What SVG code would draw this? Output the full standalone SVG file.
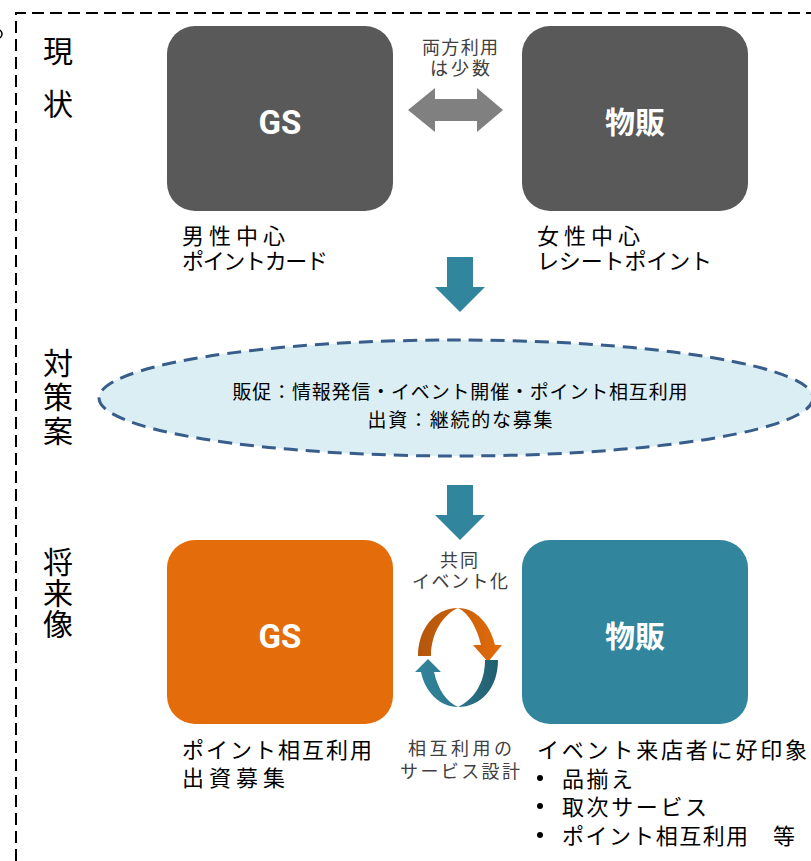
<svg xmlns="http://www.w3.org/2000/svg" width="811" height="861" viewBox="0 0 811 861">
<defs>
<linearGradient id="gOr" x1="0" y1="0" x2="1" y2="0">
<stop offset="0" stop-color="#B4560C"/><stop offset="0.5" stop-color="#C9600B"/><stop offset="1" stop-color="#E46C0A"/>
</linearGradient>
<linearGradient id="gTe" x1="0" y1="0" x2="1" y2="0">
<stop offset="0" stop-color="#31859C"/><stop offset="0.5" stop-color="#2C788D"/><stop offset="1" stop-color="#215E6E"/>
</linearGradient>
<style>
.jp{font-family:"Noto Sans CJK JP","Noto Sans CJK SC",sans-serif;}
.head{font-size:30px;fill:#000;writing-mode:vertical-rl;}
.lab{font-size:22px;fill:#000;}
.sm{font-size:18px;fill:#404040;text-anchor:middle;}
.big{fill:#fff;font-weight:bold;text-anchor:middle;}
.frame{fill:none;stroke:#000;stroke-width:2;stroke-dasharray:12 6;}
.teal{fill:#31859C;}
</style>
</defs>
<rect width="811" height="861" fill="#fff"/>
<g id="frame">
<path class="frame" d="M16,861 L16,13 L811,13"/>
<path d="M0,30 Q4,34 0,38" fill="none" stroke="#000" stroke-width="1.5"/>
</g>
<g id="headings" class="jp">
<text class="head" x="58" y="36" letter-spacing="23">現状</text>
<text class="head" x="58" y="348" letter-spacing="4">対策案</text>
<text class="head" x="58" y="547" letter-spacing="1">将来像</text>
</g>
<g id="gs-now">
<rect x="167" y="26" width="226" height="185" rx="28" fill="#595959"/>
<text x="280" y="134" class="big" style="font-family:Roboto,'Liberation Sans',sans-serif;font-size:33px">GS</text>
<text class="jp lab"><tspan x="182" y="244" textLength="103">男性中心</tspan><tspan x="182" y="269" textLength="146">ポイントカード</tspan></text>
</g>
<g id="buppan-now">
<rect x="522" y="26" width="226" height="185" rx="28" fill="#595959"/>
<text x="635" y="133" class="jp big" style="font-size:30px">物販</text>
<text class="jp lab"><tspan x="537" y="244" textLength="103">女性中心</tspan><tspan x="537" y="269" textLength="175">レシートポイント</tspan></text>
</g>
<g id="plan">
<ellipse cx="456" cy="398" rx="357" ry="58" fill="#DBEEF4" stroke="#385D8A" stroke-width="3" stroke-dasharray="14 8"/>
<text class="jp" style="font-size:19px;text-anchor:middle"><tspan x="460" y="399" textLength="455">販促：情報発信・イベント開催・ポイント相互利用</tspan><tspan x="460" y="427" textLength="185">出資：継続的な募集</tspan></text>
</g>
<g id="gs-future">
<rect x="167" y="540" width="226" height="184" rx="28" fill="#E46C0A"/>
<text x="280" y="648" class="big" style="font-family:Roboto,'Liberation Sans',sans-serif;font-size:33px">GS</text>
<text class="jp lab"><tspan x="182" y="758" textLength="190">ポイント相互利用</tspan><tspan x="182" y="786" textLength="103">出資募集</tspan></text>
</g>
<g id="buppan-future">
<rect x="522" y="540" width="226" height="184" rx="28" fill="#31859C"/>
<text x="635" y="647" class="jp big" style="font-size:30px">物販</text>
<circle cx="540" cy="778" r="3" fill="#000"/>
<circle cx="540" cy="806" r="3" fill="#000"/>
<circle cx="540" cy="835" r="3" fill="#000"/>
<text class="jp lab"><tspan x="537" y="758" textLength="270">イベント来店者に好印象</tspan><tspan x="562" y="787" textLength="71">品揃え</tspan><tspan x="562" y="815" textLength="145">取次サービス</tspan><tspan x="562" y="844" textLength="233">ポイント相互利用　等</tspan></text>
</g>
<g id="connectors">
<polygon points="408,110 435,88 435,99 477,99 477,88 503,110 477,132 477,121 435,121 435,132" fill="#808080"/>
<text class="jp sm"><tspan x="460" y="54" textLength="76">両方利用</tspan><tspan x="460" y="75" textLength="60">は少数</tspan></text>
<polygon class="teal" points="447,257 473,257 473,287 485,287 460,312 435,287 447,287"/>
<polygon class="teal" points="447,485 473,485 473,515 485,515 460,540 435,515 447,515"/>
<text class="jp sm"><tspan x="459" y="567" textLength="38">共同</tspan><tspan x="460" y="588" textLength="96">イベント化</tspan></text>
<path d="M418,656 C418,630 434,608 458,608 C476,608 490,624 495,645 L502,645 L488,662 L473,645 L481,645 C477,628 469,613 458,608 C444,614 431,632 431,656 Z" fill="url(#gOr)"/>
<path d="M498,660 C498,688 481,707 458,707 C440,707 425,692 421,672 L415,672 L428,659 L441,672 L434,672 C438,690 447,702 458,707 C473,700 485,684 485,660 Z" fill="url(#gTe)"/>
<text class="jp sm"><tspan x="460" y="755" textLength="104">相互利用の</tspan><tspan x="460" y="778" textLength="120">サービス設計</tspan></text>
</g>
</svg>
